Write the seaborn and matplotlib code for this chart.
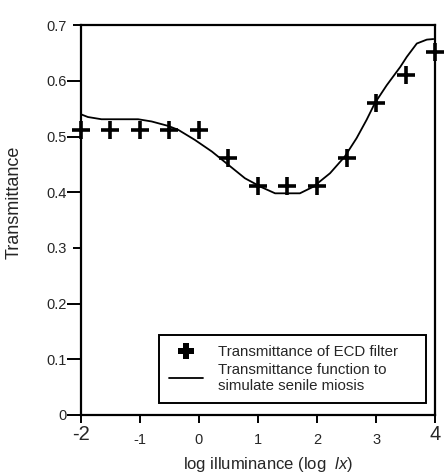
import numpy as np
import pandas as pd
import matplotlib
matplotlib.use("Agg")
import matplotlib.pyplot as plt
import seaborn as sns
from matplotlib.lines import Line2D

# Data: ECD filter measurements
ecd_x = [-2, -1.5, -1, -0.5, 0, 0.5, 1, 1.5, 2, 2.5, 3, 3.5, 4]
ecd_y = [0.512, 0.512, 0.512, 0.512, 0.512, 0.461, 0.411, 0.411, 0.411, 0.461, 0.561, 0.610, 0.652]

# Transmittance function to simulate senile miosis
fn_x = [-2.0, -1.88, -1.65, -1.03, -0.80, -0.52, -0.35, -0.07, 0.22, 0.50, 0.78, 1.06, 1.29,
        1.71, 1.94, 2.22, 2.47, 2.67, 2.84, 2.98, 3.18, 3.41, 3.52, 3.69, 3.86, 3.97]
fn_y = [0.540, 0.535, 0.531, 0.531, 0.527, 0.519, 0.512, 0.494, 0.473, 0.449, 0.425, 0.409, 0.398,
        0.398, 0.410, 0.434, 0.464, 0.497, 0.530, 0.560, 0.592, 0.625, 0.643, 0.667, 0.674, 0.675]

x_ticks = [-2, -1, 0, 1, 2, 3, 4]
x_tick_labels = ["-2", "-1", "0", "1", "2", "3", "4"]
y_ticks = [0, 0.1, 0.2, 0.3, 0.4, 0.5, 0.6, 0.7]
y_tick_labels = ["0", "0.1", "0.2", "0.3", "0.4", "0.5", "0.6", "0.7"]

sns.set_style("white")
plt.rcParams['font.family'] = ['Liberation Sans', 'DejaVu Sans']
plt.rcParams['mathtext.fontset'] = 'custom'
plt.rcParams['mathtext.it'] = 'Liberation Sans:italic'
plt.rcParams['mathtext.rm'] = 'Liberation Sans'

fig = plt.figure(figsize=(4.44, 4.74), dpi=100)
ax = fig.add_axes([0.182, 0.1245, 0.798, 0.8225])

df_fn = pd.DataFrame({"x": fn_x, "y": fn_y})
df_ecd = pd.DataFrame({"x": ecd_x, "y": ecd_y})

sns.lineplot(data=df_fn, x="x", y="y", ax=ax, color="black", linewidth=1.3, sort=False)
ax.plot(df_ecd["x"], df_ecd["y"], linestyle="none", marker="+", markersize=13,
        markeredgewidth=2.6, color="black", clip_on=False, zorder=5)

ax.set_xlim(-2, 4)
ax.set_ylim(0, 0.7)
ax.set_xticks(x_ticks)
ax.set_xticklabels(x_tick_labels)
ax.set_yticks(y_ticks)
ax.set_yticklabels(y_tick_labels)

for s in ax.spines.values():
    s.set_linewidth(1.6)
    s.set_color("black")

ax.tick_params(axis="y", direction="out", length=10, width=1.4, pad=0, color="black", labelsize=10.5)
ax.tick_params(axis="x", direction="out", length=6, width=1.4, pad=7, color="black", labelsize=10.5)
ax.tick_params(left=True, bottom=True)
for i, lab in enumerate(y_tick_labels):
    if lab in ("0.7", "0.3"):
        ax.yaxis.get_major_ticks()[i].tick1line.set_markersize(6)
for i, lab in enumerate(ax.get_xticklabels()):
    if x_tick_labels[i] in ("-2", "4"):
        lab.set_fontsize(14.5)
        ax.xaxis.get_major_ticks()[i].tick1line.set_markersize(11)
        ax.xaxis.get_major_ticks()[i].set_pad(1)

ax.set_xlabel("log illuminance (log  $\\it{lx}$)", fontsize=12)
ax.xaxis.set_label_coords(0.528, -0.102)
ax.set_ylabel("Transmittance", fontsize=13)
ax.yaxis.set_label_coords(-0.165, 0.545)

handles = [
    Line2D([], [], linestyle="none", marker="P", markersize=11, color="black",
           markeredgewidth=0),
    Line2D([], [], color="black", linewidth=1.3),
]
labels = ["Transmittance of ECD filter", "Transmittance function to\nsimulate senile miosis"]
leg = ax.legend(handles, labels, loc="lower left", bbox_to_anchor=(0.220, 0.031, 0.755, 0.1),
                mode="expand", fontsize=10.8, frameon=True, fancybox=False, edgecolor="black",
                handlelength=2.3, handletextpad=1.0, borderpad=0.65, labelspacing=0.25,
                borderaxespad=0)
leg.get_frame().set_linewidth(1.4)
leg.get_frame().set_alpha(1)

fig.savefig("out.png", dpi=100)
